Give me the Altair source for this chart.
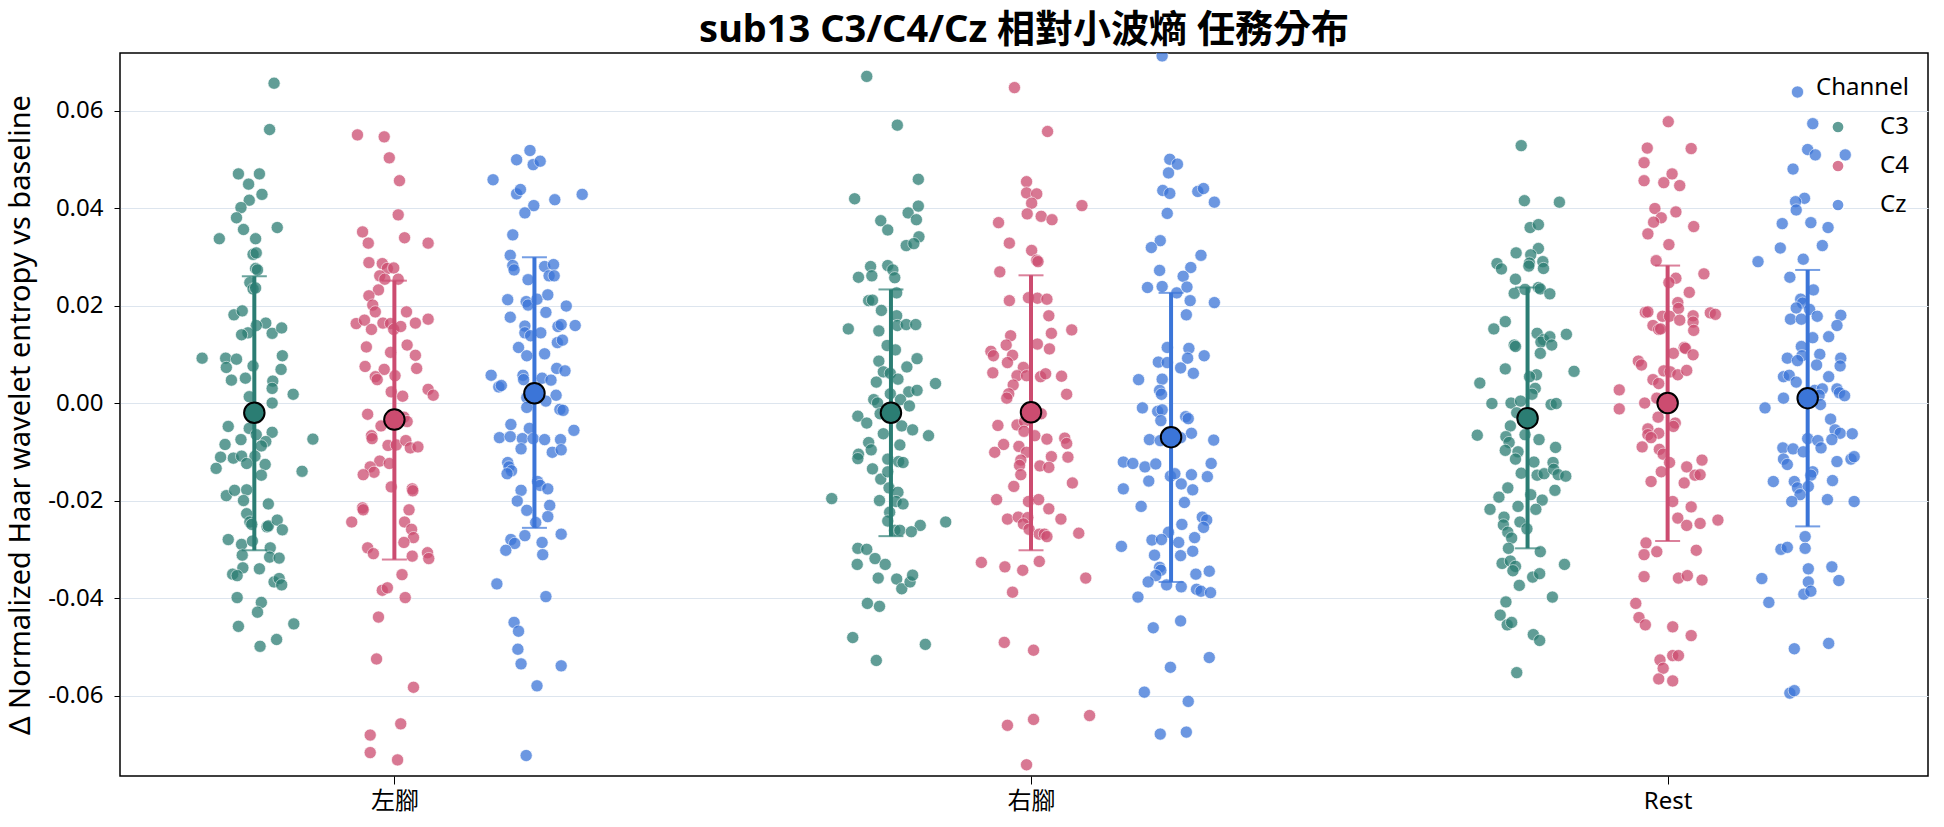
import altair as alt
import pandas as pd

FONT = "Noto Sans, Noto Sans CJK TC"

tasks = ["左腳", "右腳", "Rest"]
channels = ["C3", "C4", "Cz"]
colors = ["#2b7d73", "#cc4c70", "#3b75d8"]

# (jitter, value) pairs
left_C3 = [(0.031,0.0656),(0.024,0.0561),(-0.025,0.0470),(0.008,0.0470),(-0.009,0.0449),(0.012,0.0428),(-0.008,0.0416),(-0.021,0.0401),(-0.028,0.0380),(0.036,0.0360),(-0.017,0.0356),(-0.055,0.0337),(0.002,0.0337),(-0.002,0.0305),(0.003,0.0308),(0.002,0.0276),(0.005,0.0273),(-0.007,0.0247),(-0.002,0.0234),(0.002,0.0236),(-0.032,0.0181),(-0.019,0.0189),(0.018,0.0164),(0.003,0.0159),(-0.010,0.0144),(-0.020,0.0140),(0.028,0.0143),(0.043,0.0154),(-0.082,0.0092),(-0.045,0.0092),(-0.028,0.0090),(-0.044,0.0073),(0.044,0.0097),(0.042,0.0069),(-0.002,0.0076),(-0.036,0.0047),(-0.014,0.0051),(0.029,0.0045),(0.028,0.0030),(0.061,0.0018),(-0.008,0.0013),(0.028,0.0000),(-0.041,-0.0048),(-0.008,-0.0052),(0.092,-0.0074),(-0.046,-0.0085),(-0.021,-0.0075),(0.003,-0.0065),(0.028,-0.0060),(0.018,-0.0079),(0.011,-0.0088),(-0.053,-0.0111),(-0.033,-0.0113),(-0.020,-0.0109),(0.001,-0.0109),(-0.012,-0.0124),(0.017,-0.0126),(-0.060,-0.0134),(0.075,-0.0140),(0.011,-0.0148),(-0.044,-0.0190),(-0.031,-0.0179),(-0.012,-0.0178),(-0.017,-0.0200),(0.022,-0.0207),(-0.012,-0.0227),(-0.007,-0.0244),(-0.004,-0.0249),(0.020,-0.0254),(0.022,-0.0252),(0.036,-0.0240),(0.044,-0.0260),(-0.041,-0.0280),(-0.020,-0.0290),(-0.003,-0.0283),(0.025,-0.0297),(-0.019,-0.0312),(0.024,-0.0316),(0.039,-0.0318),(-0.018,-0.0338),(0.008,-0.0340),(-0.034,-0.0351),(-0.027,-0.0354),(0.031,-0.0367),(0.039,-0.0360),(0.043,-0.0373),(-0.027,-0.0399),(0.011,-0.0409),(0.005,-0.0429),(-0.025,-0.0458),(0.062,-0.0453),(0.035,-0.0485),(0.009,-0.0499)]

left_C4 = [(-0.058,0.0550),(-0.016,0.0546),(-0.008,0.0503),(0.008,0.0456),(0.006,0.0386),(-0.050,0.0351),(-0.041,0.0328),(0.016,0.0339),(0.053,0.0328),(-0.040,0.0288),(-0.019,0.0286),(-0.011,0.0276),(-0.001,0.0277),(-0.023,0.0261),(-0.015,0.0254),(0.006,0.0254),(-0.025,0.0232),(-0.040,0.0220),(-0.034,0.0201),(-0.030,0.0187),(0.019,0.0187),(-0.060,0.0163),(-0.047,0.0170),(-0.036,0.0151),(-0.018,0.0164),(-0.006,0.0163),(-0.001,0.0151),(0.010,0.0157),(0.033,0.0164),(0.053,0.0172),(-0.044,0.0115),(0.020,0.0119),(-0.006,0.0104),(0.033,0.0098),(-0.046,0.0075),(-0.016,0.0069),(-0.030,0.0054),(-0.027,0.0048),(0.001,0.0056),(0.035,0.0071),(-0.005,0.0023),(0.013,0.0014),(0.053,0.0028),(0.061,0.0016),(-0.042,-0.0023),(-0.021,-0.0047),(0.015,-0.0029),(0.020,-0.0038),(-0.036,-0.0067),(-0.035,-0.0073),(-0.010,-0.0087),(0.003,-0.0086),(0.018,-0.0077),(0.025,-0.0092),(0.037,-0.0090),(-0.023,-0.0119),(-0.008,-0.0124),(-0.038,-0.0131),(-0.032,-0.0142),(-0.049,-0.0147),(-0.005,-0.0172),(0.028,-0.0176),(0.029,-0.0180),(-0.050,-0.0215),(-0.049,-0.0219),(-0.067,-0.0244),(0.023,-0.0219),(0.016,-0.0244),(0.027,-0.0259),(0.030,-0.0276),(0.015,-0.0286),(-0.042,-0.0297),(-0.033,-0.0309),(0.028,-0.0314),(0.052,-0.0307),(0.054,-0.0319),(0.012,-0.0352),(-0.019,-0.0384),(-0.011,-0.0379),(0.017,-0.0399),(-0.025,-0.0439),(-0.028,-0.0525),(0.030,-0.0583),(0.010,-0.0658),(-0.038,-0.0681),(-0.038,-0.0717),(0.005,-0.0732)]

left_Cz = [(-0.007,0.0518),(-0.028,0.0499),(-0.002,0.0489),(0.009,0.0496),(-0.065,0.0458),(-0.028,0.0429),(-0.022,0.0438),(0.032,0.0417),(0.075,0.0428),(-0.001,0.0405),(-0.015,0.0390),(-0.034,0.0345),(-0.038,0.0303),(-0.034,0.0282),(-0.032,0.0273),(0.016,0.0280),(0.030,0.0284),(0.023,0.0261),(0.031,0.0261),(-0.010,0.0253),(-0.042,0.0212),(-0.013,0.0208),(-0.010,0.0201),(0.004,0.0213),(0.021,0.0222),(0.050,0.0199),(-0.038,0.0176),(0.018,0.0186),(-0.015,0.0158),(-0.015,0.0144),(-0.006,0.0138),(0.010,0.0144),(0.037,0.0157),(0.042,0.0161),(0.064,0.0159),(-0.025,0.0114),(-0.012,0.0097),(0.016,0.0101),(0.036,0.0124),(0.044,0.0129),(-0.068,0.0057),(-0.056,0.0033),(-0.052,0.0036),(-0.018,0.0057),(-0.017,0.0048),(0.012,0.0051),(0.026,0.0047),(0.035,0.0071),(0.048,0.0066),(0.034,0.0016),(-0.012,0.0011),(0.018,0.0004),(-0.012,-0.0009),(0.040,-0.0013),(0.045,-0.0015),(-0.037,-0.0044),(-0.055,-0.0071),(-0.038,-0.0069),(-0.019,-0.0073),(-0.008,-0.0052),(-0.002,-0.0073),(0.016,-0.0075),(0.041,-0.0075),(0.062,-0.0056),(-0.021,-0.0094),(0.028,-0.0101),(0.042,-0.0096),(-0.042,-0.0122),(-0.040,-0.0131),(-0.036,-0.0139),(-0.043,-0.0145),(0.005,-0.0161),(0.009,-0.0169),(0.021,-0.0176),(-0.021,-0.0179),(-0.027,-0.0201),(0.024,-0.0210),(-0.012,-0.0220),(0.021,-0.0233),(0.002,-0.0245),(-0.015,-0.0272),(0.042,-0.0269),(-0.037,-0.0280),(-0.031,-0.0288),(-0.045,-0.0302),(0.012,-0.0286),(0.013,-0.0311),(-0.059,-0.0371),(0.018,-0.0397),(-0.032,-0.0450),(-0.025,-0.0468),(-0.026,-0.0505),(-0.021,-0.0535),(0.042,-0.0539),(0.004,-0.0580),(-0.013,-0.0723)]

right_C3 = [(-0.038,0.0670),(0.010,0.0570),(0.043,0.0459),(-0.057,0.0419),(0.027,0.0390),(0.043,0.0404),(-0.016,0.0374),(-0.005,0.0355),(0.040,0.0376),(0.044,0.0341),(0.024,0.0323),(0.036,0.0327),(-0.032,0.0280),(-0.051,0.0258),(-0.030,0.0261),(-0.005,0.0282),(0.003,0.0273),(0.006,0.0257),(0.009,0.0226),(-0.035,0.0210),(-0.029,0.0211),(-0.015,0.0190),(0.009,0.0179),(-0.067,0.0152),(-0.019,0.0148),(0.010,0.0159),(0.024,0.0161),(0.039,0.0161),(-0.006,0.0118),(0.007,0.0109),(-0.019,0.0086),(0.041,0.0091),(-0.012,0.0064),(-0.001,0.0061),(0.025,0.0074),(-0.023,0.0043),(0.011,0.0049),(0.070,0.0040),(-0.001,0.0019),(0.028,0.0023),(0.041,0.0026),(-0.027,0.0007),(-0.021,0.0000),(0.015,0.0007),(0.029,-0.0006),(-0.052,-0.0027),(-0.038,-0.0041),(-0.017,-0.0022),(0.017,-0.0047),(0.034,-0.0055),(-0.012,-0.0063),(0.059,-0.0067),(-0.035,-0.0081),(-0.031,-0.0096),(0.014,-0.0086),(-0.051,-0.0105),(-0.052,-0.0114),(-0.029,-0.0135),(-0.005,-0.0115),(0.012,-0.0120),(0.019,-0.0122),(-0.016,-0.0156),(-0.005,-0.0141),(-0.003,-0.0174),(0.011,-0.0183),(-0.093,-0.0196),(-0.018,-0.0200),(0.008,-0.0202),(0.019,-0.0207),(-0.002,-0.0224),(-0.005,-0.0242),(0.046,-0.0251),(0.086,-0.0244),(0.006,-0.0261),(0.014,-0.0261),(0.032,-0.0264),(-0.052,-0.0298),(-0.038,-0.0300),(-0.053,-0.0331),(-0.025,-0.0319),(-0.009,-0.0331),(-0.020,-0.0359),(0.009,-0.0361),(0.017,-0.0381),(0.030,-0.0367),(0.034,-0.0353),(-0.037,-0.0411),(-0.018,-0.0417),(-0.060,-0.0481),(0.054,-0.0495),(-0.023,-0.0528)]

right_C4 = [(-0.026,0.0647),(0.026,0.0557),(-0.007,0.0454),(-0.007,0.0431),(0.009,0.0429),(0.001,0.0410),(0.080,0.0405),(-0.006,0.0388),(0.016,0.0383),(0.033,0.0376),(-0.051,0.0370),(-0.034,0.0328),(0.001,0.0313),(0.009,0.0293),(0.011,0.0290),(-0.049,0.0269),(-0.034,0.0210),(-0.004,0.0216),(0.010,0.0215),(0.025,0.0213),(0.028,0.0179),(0.064,0.0150),(0.032,0.0143),(-0.032,0.0138),(-0.039,0.0119),(-0.063,0.0106),(-0.059,0.0097),(-0.029,0.0098),(-0.037,0.0083),(0.010,0.0121),(0.029,0.0111),(-0.012,0.0073),(-0.022,0.0056),(-0.007,0.0056),(-0.060,0.0062),(0.015,0.0054),(0.023,0.0060),(0.048,0.0055),(-0.028,0.0037),(-0.035,0.0019),(-0.038,0.0010),(0.056,0.0018),(0.016,-0.0022),(-0.052,-0.0046),(-0.022,-0.0045),(-0.010,-0.0038),(-0.011,-0.0058),(0.006,-0.0067),(0.025,-0.0074),(0.053,-0.0072),(0.056,-0.0083),(-0.043,-0.0085),(-0.019,-0.0089),(-0.057,-0.0101),(-0.007,-0.0101),(-0.016,-0.0117),(0.032,-0.0110),(0.058,-0.0111),(-0.018,-0.0128),(0.014,-0.0129),(0.028,-0.0132),(-0.016,-0.0147),(-0.027,-0.0171),(0.065,-0.0164),(-0.054,-0.0198),(-0.004,-0.0202),(0.012,-0.0198),(0.028,-0.0217),(-0.037,-0.0238),(-0.020,-0.0234),(-0.005,-0.0235),(-0.012,-0.0248),(0.047,-0.0238),(-0.003,-0.0259),(0.013,-0.0269),(0.021,-0.0269),(0.025,-0.0274),(0.075,-0.0267),(-0.078,-0.0327),(-0.041,-0.0336),(-0.013,-0.0343),(0.013,-0.0325),(0.086,-0.0359),(-0.029,-0.0388),(-0.042,-0.0491),(0.004,-0.0507),(-0.037,-0.0661),(0.004,-0.0649),(0.092,-0.0641),(-0.007,-0.0742)]

right_Cz = [(-0.014,0.0712),(-0.002,0.0500),(0.010,0.0490),(-0.004,0.0472),(-0.013,0.0436),(-0.002,0.0430),(0.042,0.0434),(0.051,0.0440),(0.068,0.0412),(-0.006,0.0389),(-0.017,0.0333),(-0.031,0.0319),(0.047,0.0303),(-0.018,0.0272),(0.031,0.0278),(0.019,0.0260),(-0.037,0.0237),(-0.014,0.0239),(0.009,0.0226),(0.025,0.0238),(0.030,0.0210),(0.068,0.0206),(0.024,0.0181),(-0.006,0.0114),(0.028,0.0112),(-0.020,0.0084),(-0.006,0.0083),(0.026,0.0092),(0.052,0.0097),(0.015,0.0072),(0.035,0.0061),(-0.051,0.0048),(-0.014,0.0049),(-0.018,0.0026),(-0.015,0.0018),(-0.045,-0.0010),(-0.021,-0.0017),(-0.014,-0.0014),(-0.016,-0.0036),(0.023,-0.0028),(0.027,-0.0032),(0.032,-0.0062),(-0.034,-0.0075),(-0.017,-0.0077),(0.015,-0.0071),(0.067,-0.0076),(-0.075,-0.0121),(-0.060,-0.0124),(-0.041,-0.0131),(-0.024,-0.0125),(-0.035,-0.0160),(0.063,-0.0124),(-0.001,-0.0150),(0.006,-0.0145),(0.032,-0.0147),(0.057,-0.0151),(-0.075,-0.0176),(0.016,-0.0166),(0.034,-0.0178),(-0.047,-0.0212),(0.021,-0.0204),(0.049,-0.0234),(0.056,-0.0240),(0.051,-0.0255),(0.017,-0.0249),(-0.004,-0.0265),(-0.030,-0.0281),(-0.015,-0.0280),(0.012,-0.0286),(0.037,-0.0276),(-0.078,-0.0294),(-0.026,-0.0312),(0.015,-0.0313),(0.034,-0.0304),(-0.018,-0.0337),(-0.016,-0.0343),(-0.024,-0.0354),(-0.036,-0.0367),(-0.007,-0.0373),(0.016,-0.0377),(0.039,-0.0351),(0.060,-0.0345),(0.040,-0.0382),(0.047,-0.0386),(0.062,-0.0389),(-0.052,-0.0398),(-0.028,-0.0461),(0.015,-0.0447),(-0.001,-0.0542),(0.060,-0.0522),(-0.042,-0.0593),(0.027,-0.0612),(-0.017,-0.0679),(0.024,-0.0675)]

rest_C3 = [(-0.010,0.0528),(-0.005,0.0415),(0.050,0.0412),(0.004,0.0360),(0.017,0.0366),(0.017,0.0317),(-0.018,0.0308),(0.005,0.0304),(0.003,0.0287),(0.002,0.0281),(0.024,0.0290),(0.025,0.0276),(-0.048,0.0286),(-0.041,0.0275),(-0.019,0.0254),(-0.021,0.0225),(-0.004,0.0233),(0.017,0.0237),(0.020,0.0234),(0.035,0.0224),(-0.053,0.0152),(-0.035,0.0167),(0.015,0.0143),(0.025,0.0130),(0.021,0.0125),(0.035,0.0136),(0.038,0.0119),(0.061,0.0141),(-0.021,0.0119),(-0.019,0.0116),(0.020,0.0102),(-0.035,0.0070),(0.073,0.0065),(0.014,0.0058),(0.003,0.0054),(-0.075,0.0041),(0.012,0.0030),(0.007,0.0018),(-0.056,-0.0001),(-0.026,0.0000),(-0.011,0.0004),(0.037,-0.0003),(0.045,-0.0001),(-0.017,-0.0020),(-0.027,-0.0047),(-0.079,-0.0066),(-0.034,-0.0069),(-0.029,-0.0081),(-0.004,-0.0065),(0.018,-0.0075),(-0.035,-0.0097),(-0.015,-0.0100),(-0.019,-0.0115),(0.044,-0.0091),(0.010,-0.0121),(0.040,-0.0122),(-0.010,-0.0144),(0.015,-0.0148),(0.026,-0.0145),(0.041,-0.0136),(0.048,-0.0147),(0.060,-0.0150),(-0.031,-0.0174),(0.043,-0.0179),(-0.045,-0.0193),(0.005,-0.0188),(0.023,-0.0199),(-0.015,-0.0212),(-0.059,-0.0218),(0.013,-0.0218),(-0.037,-0.0234),(-0.038,-0.0250),(-0.012,-0.0244),(-0.001,-0.0258),(-0.031,-0.0265),(-0.025,-0.0277),(-0.030,-0.0298),(0.020,-0.0305),(-0.040,-0.0329),(-0.027,-0.0324),(-0.019,-0.0335),(-0.023,-0.0344),(0.058,-0.0331),(-0.013,-0.0374),(0.008,-0.0357),(0.019,-0.0350),(0.039,-0.0398),(-0.034,-0.0408),(-0.043,-0.0435),(-0.032,-0.0455),(-0.025,-0.0450),(0.009,-0.0475),(0.019,-0.0487),(-0.017,-0.0553)]

rest_C4 = [(0.001,0.0577),(-0.032,0.0523),(0.037,0.0522),(-0.037,0.0493),(-0.037,0.0456),(-0.006,0.0452),(0.007,0.0470),(0.019,0.0446),(-0.020,0.0399),(-0.010,0.0380),(-0.022,0.0371),(0.013,0.0392),(0.041,0.0362),(-0.031,0.0347),(0.002,0.0325),(-0.018,0.0292),(0.057,0.0265),(0.013,0.0256),(0.002,0.0247),(0.034,0.0227),(0.016,0.0206),(0.017,0.0194),(-0.035,0.0186),(-0.031,0.0187),(-0.008,0.0178),(0.003,0.0178),(0.019,0.0170),(0.040,0.0179),(0.040,0.0166),(0.041,0.0149),(0.067,0.0185),(0.075,0.0182),(-0.023,0.0159),(-0.014,0.0151),(-0.011,0.0152),(0.026,0.0114),(0.028,0.0112),(0.040,0.0099),(0.009,0.0102),(-0.046,0.0086),(-0.041,0.0078),(-0.006,0.0066),(0.004,0.0064),(0.016,0.0058),(0.030,0.0067),(-0.023,0.0048),(-0.014,0.0040),(-0.076,0.0027),(-0.036,0.0000),(-0.017,0.0010),(-0.076,-0.0012),(-0.015,-0.0029),(0.012,-0.0041),(0.009,-0.0048),(-0.031,-0.0053),(-0.014,-0.0062),(-0.031,-0.0065),(-0.026,-0.0071),(-0.040,-0.0090),(-0.013,-0.0095),(-0.007,-0.0105),(0.003,-0.0122),(0.054,-0.0117),(0.030,-0.0131),(0.043,-0.0148),(0.051,-0.0147),(-0.010,-0.0141),(-0.026,-0.0161),(0.026,-0.0164),(0.008,-0.0202),(0.037,-0.0213),(0.016,-0.0236),(0.030,-0.0251),(0.051,-0.0247),(0.079,-0.0240),(-0.034,-0.0287),(-0.037,-0.0311),(-0.017,-0.0305),(0.045,-0.0302),(-0.037,-0.0356),(0.017,-0.0359),(0.031,-0.0354),(0.054,-0.0363),(-0.050,-0.0411),(-0.045,-0.0440),(-0.035,-0.0455),(0.008,-0.0459),(0.037,-0.0477),(-0.012,-0.0527),(0.008,-0.0518),(0.017,-0.0518),(-0.007,-0.0544),(-0.014,-0.0566),(0.008,-0.0570)]

rest_Cz = [(-0.016,0.0638),(0.008,0.0573),(0.000,0.0520),(0.012,0.0509),(0.059,0.0509),(-0.023,0.0480),(-0.005,0.0420),(-0.019,0.0413),(-0.018,0.0396),(-0.040,0.0368),(0.005,0.0370),(0.032,0.0360),(-0.043,0.0318),(0.023,0.0323),(-0.078,0.0290),(-0.007,0.0295),(-0.028,0.0258),(0.009,0.0232),(-0.011,0.0213),(-0.008,0.0205),(-0.018,0.0195),(0.003,0.0192),(-0.027,0.0172),(-0.010,0.0172),(0.015,0.0178),(0.052,0.0180),(0.046,0.0159),(0.008,0.0134),(0.033,0.0136),(-0.010,0.0116),(-0.009,0.0097),(-0.032,0.0092),(-0.016,0.0087),(0.019,0.0100),(0.014,0.0078),(0.052,0.0092),(0.051,0.0076),(-0.038,0.0054),(-0.029,0.0057),(-0.018,0.0043),(0.033,0.0054),(0.011,0.0026),(0.023,0.0029),(0.018,0.0016),(0.046,0.0029),(0.050,0.0021),(0.058,0.0015),(-0.038,0.0010),(-0.067,-0.0010),(0.020,-0.0003),(0.036,-0.0033),(0.043,-0.0055),(0.051,-0.0062),(0.070,-0.0063),(0.000,-0.0073),(0.016,-0.0077),(0.038,-0.0075),(-0.039,-0.0092),(-0.023,-0.0094),(-0.007,-0.0100),(0.021,-0.0092),(-0.038,-0.0115),(-0.032,-0.0126),(0.046,-0.0120),(0.068,-0.0115),(0.073,-0.0110),(0.008,-0.0141),(0.005,-0.0148),(-0.054,-0.0161),(-0.021,-0.0161),(0.039,-0.0159),(-0.016,-0.0174),(0.001,-0.0171),(-0.012,-0.0188),(-0.025,-0.0202),(0.031,-0.0198),(0.073,-0.0202),(-0.004,-0.0274),(-0.042,-0.0300),(-0.032,-0.0296),(-0.004,-0.0298),(0.001,-0.0340),(0.038,-0.0336),(-0.072,-0.0360),(0.001,-0.0367),(0.049,-0.0364),(-0.006,-0.0392),(0.005,-0.0386),(-0.061,-0.0409),(-0.021,-0.0504),(0.033,-0.0493),(-0.028,-0.0595),(-0.021,-0.0590)]

# mean and error-bar ends per channel, in task order
mean_vals = {"C3": [-0.0020, -0.0020, -0.0031], "C4": [-0.0034, -0.0019, 0.0000], "Cz": [0.0020, -0.0070, 0.0010]}
err_low = {"C3": [-0.0302, -0.0273, -0.0298], "C4": [-0.0321, -0.0302, -0.0283], "Cz": [-0.0256, -0.0367, -0.0253]}
err_high = {"C3": [0.0260, 0.0233, 0.0237], "C4": [0.0251, 0.0262, 0.0282], "Cz": [0.0299, 0.0226, 0.0273]}

groups = {
    ("左腳", "C3"): left_C3, ("左腳", "C4"): left_C4, ("左腳", "Cz"): left_Cz,
    ("右腳", "C3"): right_C3, ("右腳", "C4"): right_C4, ("右腳", "Cz"): right_Cz,
    ("Rest", "C3"): rest_C3, ("Rest", "C4"): rest_C4, ("Rest", "Cz"): rest_Cz,
}
dodge = {"C3": -0.22, "C4": 0.0, "Cz": 0.22}

rows = []
for (task, ch), pts in groups.items():
    base = tasks.index(task) + dodge[ch]
    for j, v in pts:
        rows.append({"task": task, "channel": ch, "value": v, "xpos": base + j})
df = pd.DataFrame(rows)

srows = []
for ci, ch in enumerate(channels):
    for ti, task in enumerate(tasks):
        srows.append({"task": task, "channel": ch, "xc": ti + dodge[ch],
                      "mean": mean_vals[ch][ti], "lo": err_low[ch][ti],
                      "hi": err_high[ch][ti], "hex": colors[ci]})
sdf = pd.DataFrame(srows)

label_expr = "[" + ",".join("'%s'" % t for t in tasks) + "][datum.value]"
xscale = alt.Scale(domain=[-0.431, 2.409], nice=False, zero=False)
yscale = alt.Scale(domain=[-0.0765, 0.0718], nice=False, zero=False)
xaxis = alt.Axis(values=[0, 1, 2], labelExpr=label_expr, title=None, grid=False,
                 domain=False, tickSize=8, labelPadding=5)
yaxis = alt.Axis(values=[-0.06, -0.04, -0.02, 0.0, 0.02, 0.04, 0.06], format=".2f",
                 labelExpr="replace(datum.label, '−', '-')",
                 title="Δ Normalized Haar wavelet entropy vs baseline", grid=True,
                 gridColor="#dde5ee", gridWidth=1, domain=False, tickSize=6,
                 labelPadding=11, titlePadding=12)

points = alt.Chart(df).mark_circle(size=150, opacity=0.75, stroke="white",
                                   strokeWidth=0.7, clip=True).encode(
    x=alt.X("xpos:Q", scale=xscale, axis=xaxis),
    y=alt.Y("value:Q", scale=yscale, axis=yaxis),
    color=alt.Color("channel:N", scale=alt.Scale(domain=channels, range=colors),
                    legend=alt.Legend(title="Channel", orient="none", legendX=1696, legendY=23,
                                      symbolSize=150, symbolOffset=10, labelOffset=30,
                                      rowPadding=15, titlePadding=15, labelFontSize=24,
                                      titleFontSize=24, titleFontWeight="normal",
                                      labelFont=FONT, titleFont=FONT, padding=0,
                                      symbolType="circle", symbolOpacity=0.75,
                                      titleColor="black", labelColor="black")),
)

bars = alt.Chart(sdf).mark_rule(strokeWidth=4).encode(
    x=alt.X("xc:Q", scale=xscale, axis=xaxis),
    y=alt.Y("lo:Q", scale=yscale, axis=yaxis),
    y2="hi:Q",
    color=alt.Color("hex:N", scale=None),
)

caps = alt.Chart(sdf).transform_fold(["lo", "hi"], as_=["end", "yv"]).mark_tick(
    orient="horizontal", size=25, thickness=2).encode(
    x=alt.X("xc:Q", scale=xscale, axis=xaxis),
    y=alt.Y("yv:Q", scale=yscale, axis=yaxis),
    color=alt.Color("hex:N", scale=None),
)

means = alt.Chart(sdf).mark_circle(size=420, opacity=1, stroke="black", strokeWidth=2).encode(
    x=alt.X("xc:Q", scale=xscale, axis=xaxis),
    y=alt.Y("mean:Q", scale=yscale, axis=yaxis),
    color=alt.Color("hex:N", scale=None),
)

chart = alt.layer(points, bars, caps, means).properties(
    width=1808, height=723,
    title=alt.TitleParams("sub13 C3/C4/Cz 相對小波熵 任務分布", fontSize=38, font=FONT,
                          fontWeight="bold", anchor="middle", frame="group", offset=3,
                          color="black"),
    autosize=alt.AutoSizeParams(type="none"),
    padding={"left": 120, "top": 53, "right": 16, "bottom": 51},
).configure_view(stroke="black", strokeWidth=1.5).configure_axis(
    labelFont=FONT, titleFont=FONT, labelFontSize=24, titleFontSize=29,
    labelColor="black", titleColor="black", tickColor="black", titleFontWeight="normal",
)

chart.save("out.html", embed_options={"renderer": "svg", "actions": False})
